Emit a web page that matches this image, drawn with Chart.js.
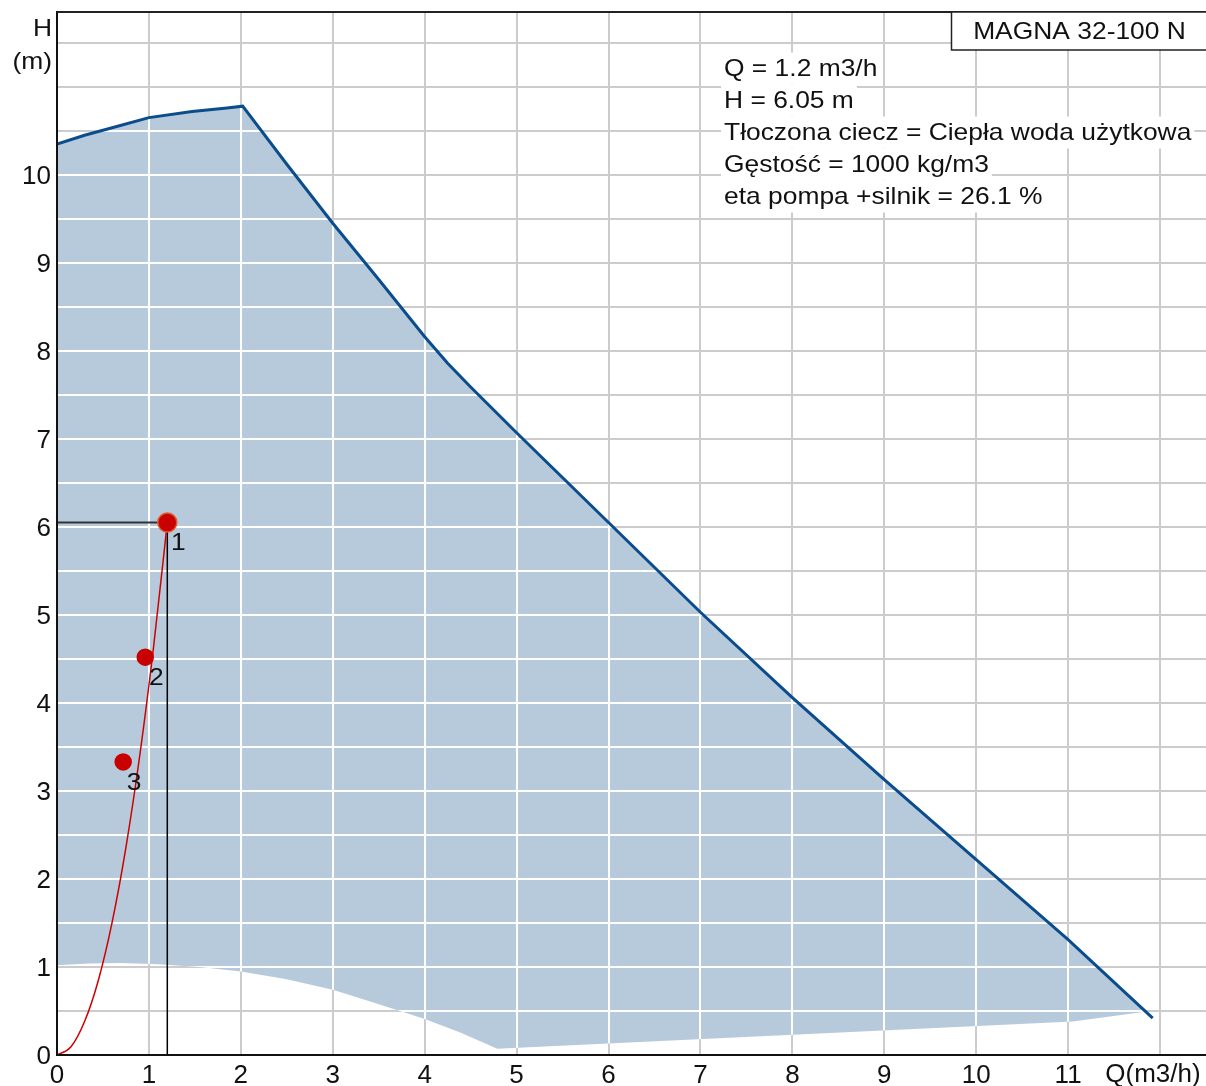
<!DOCTYPE html>
<html>
<head>
<meta charset="utf-8">
<script src="https://cdn.jsdelivr.net/npm/chart.js@4.4.1/dist/chart.umd.min.js"></script>
<style>
  html, body { margin: 0; padding: 0; background: #fff; }
  #wrap { width: 1206px; height: 1086px; }
</style>
</head>
<body>
<div id="wrap"><canvas id="pumpChart" width="1206" height="1086"></canvas></div>
<script>
// upper edge of the working field (max speed curve)
const maxQ = [0, 0.3, 0.58, 1.0, 1.47, 1.85, 2.02, 2.5, 3, 3.5, 4, 4.25, 4.5, 5, 6, 7, 8, 9, 10, 11, 11.92];
const maxH = [10.35, 10.45, 10.53, 10.65, 10.72, 10.76, 10.78, 10.12, 9.45, 8.81, 8.16, 7.86, 7.59, 7.07, 6.05, 5.03, 4.06, 3.13, 2.22, 1.31, 0.42];

// lower edge of the working field (min speed curve)
const minQ = [0, 0.35, 0.7, 1.1, 1.55, 2, 2.5, 3, 3.4, 3.73, 4, 4.4, 4.79, 11.05, 11.84];
const minH = [1.02, 1.04, 1.045, 1.03, 1.0, 0.95, 0.86, 0.74, 0.61, 0.5, 0.41, 0.25, 0.07, 0.38, 0.49];

// system curve
const sysQ = [0, 0.15, 0.3, 0.45, 0.6, 0.75, 0.9, 1.05, 1.2];
const sysH = [0, 0.09, 0.38, 0.85, 1.51, 2.36, 3.4, 4.63, 6.05];

// duty points
const dutyQ = [1.2, 0.96, 0.72];
const dutyH = [6.05, 4.52, 3.33];
const dutyLabels = ['1', '2', '3'];

const xTickLabels = ['0', '1', '2', '3', '4', '5', '6', '7', '8', '9', '10', '11'];
const yTickLabels = ['0', '1', '2', '3', '4', '5', '6', '7', '8', '9', '10'];
const xTitle = 'Q(m3/h)';
const yTitle = ['H', '(m)'];

const pumpName = 'MAGNA 32-100 N';
const infoLines = [
  'Q = 1.2 m3/h',
  'H = 6.05 m',
  'Tłoczona ciecz = Ciepła woda użytkowa',
  'Gęstość = 1000 kg/m3',
  'eta pompa +silnik = 26.1 %'
];

const FONT = '"Liberation Sans", Arial, sans-serif';
const STRETCH = 1.1;
const pts = (xs, ys) => xs.map((x, i) => ({ x: x, y: ys[i] }));

const fieldPts = pts(maxQ, maxH).concat(pts(minQ, minH).reverse());
const AREA = 5;

// text a bit wider than tall, like the original
function wideText(ctx, t, x, y) {
  ctx.save();
  ctx.translate(x, y);
  ctx.scale(STRETCH, 1);
  ctx.fillText(t, 0, 0);
  ctx.restore();
}

// white grid lines inside the working field
const fieldGrid = {
  id: 'fieldGrid',
  afterDatasetDraw(chart, args) {
    if (args.index !== AREA) return;
    const ctx = chart.ctx, a = chart.chartArea;
    const p = args.meta.data;
    ctx.save();
    ctx.beginPath();
    p.forEach((q, i) => i ? ctx.lineTo(q.x, q.y) : ctx.moveTo(q.x, q.y));
    ctx.closePath();
    ctx.clip();
    ctx.strokeStyle = '#ffffff';
    ctx.lineWidth = 2;
    chart.scales.x.ticks.forEach(t => {
      const x = Math.round(chart.scales.x.getPixelForValue(t.value));
      ctx.beginPath(); ctx.moveTo(x, a.top); ctx.lineTo(x, a.bottom); ctx.stroke();
    });
    chart.scales.y.ticks.forEach(t => {
      const y = Math.round(chart.scales.y.getPixelForValue(t.value));
      ctx.beginPath(); ctx.moveTo(a.left, y); ctx.lineTo(a.right, y); ctx.stroke();
    });
    ctx.restore();
  }
};

const annotations = {
  id: 'annotations',
  afterDraw(chart) {
    const ctx = chart.ctx, a = chart.chartArea;
    ctx.save();
    // top frame
    ctx.strokeStyle = '#222';
    ctx.lineWidth = 2;
    ctx.beginPath(); ctx.moveTo(a.left, a.top); ctx.lineTo(a.right, a.top); ctx.stroke();

    ctx.fillStyle = '#111';
    ctx.textBaseline = 'middle';

    // x axis title in place of the last tick label
    ctx.font = '26px ' + FONT;
    ctx.textAlign = 'center';
    ctx.fillText(xTitle, 1153, 1075);

    ctx.font = '24px ' + FONT;

    // y axis title
    ctx.textAlign = 'right';
    wideText(ctx, yTitle[0], 52, 29.5);
    wideText(ctx, yTitle[1], 52, 62);

    // name box
    ctx.fillStyle = '#fff';
    ctx.fillRect(951, 12, 270, 38);
    ctx.lineWidth = 1.5;
    ctx.strokeRect(951.5, 12, 270, 38);
    ctx.fillStyle = '#111';
    ctx.textAlign = 'center';
    wideText(ctx, pumpName, 1079.5, 32);

    // info block
    ctx.textAlign = 'left';
    infoLines.forEach((t, i) => {
      const y = 69.5 + i * 32;
      const w = ctx.measureText(t).width * STRETCH;
      ctx.fillStyle = '#fff';
      ctx.fillRect(721, y - 17, w + 6, 32);
      ctx.fillStyle = '#111';
      wideText(ctx, t, 724, y);
    });

    // duty point numbers
    ctx.textAlign = 'center';
    chart.getDatasetMeta(0).data.forEach((q, i) => {
      wideText(ctx, dutyLabels[i], q.x + 11, q.y + 21);
    });
    ctx.restore();
  }
};

const config = {
  type: 'line',
  data: {
    datasets: [
      {
        data: pts(dutyQ, dutyH),
        showLine: false,
        pointRadius: [9.5, 8, 8],
        pointBackgroundColor: '#c80000',
        pointBorderColor: ['#e2592c', '#c80000', '#c80000'],
        pointBorderWidth: 1.5
      },
      {
        data: pts(sysQ, sysH),
        borderColor: '#cc0000',
        borderWidth: 1.5,
        cubicInterpolationMode: 'monotone',
        pointRadius: 0
      },
      {
        data: [{ x: dutyQ[0], y: dutyH[0] }, { x: dutyQ[0], y: 0 }],
        borderColor: '#000',
        borderWidth: 1.5,
        pointRadius: 0
      },
      {
        data: [{ x: 0, y: dutyH[0] }, { x: dutyQ[0], y: dutyH[0] }],
        borderColor: '#333',
        borderWidth: 2,
        pointRadius: 0
      },
      {
        data: pts(maxQ, maxH),
        borderColor: '#0b4d8c',
        borderWidth: 3,
        pointRadius: 0
      },
      {
        data: fieldPts,
        borderWidth: 0,
        backgroundColor: '#b7cadb',
        fill: 'shape',
        pointRadius: 0
      }
    ]
  },
  options: {
    responsive: false,
    animation: false,
    layout: { autoPadding: false, padding: { top: 12, left: 0, right: 0, bottom: 0 } },
    plugins: { legend: { display: false }, tooltip: { enabled: false } },
    scales: {
      x: {
        type: 'linear',
        min: 0,
        max: 12.5,
        ticks: {
          stepSize: 1,
          includeBounds: false,
          padding: 5,
          color: '#111',
          maxRotation: 0,
          autoSkip: false,
          font: { family: FONT, size: 26 },
          callback: v => xTickLabels[v] || ''
        },
        grid: { color: '#cccccc', lineWidth: 2, drawTicks: false },
        border: { color: '#111', width: 2, z: 1 },
        afterFit: s => { s.height = 31; s.paddingLeft = 0; s.paddingRight = 0; }
      },
      y: {
        type: 'linear',
        min: 0,
        max: 11.85,
        ticks: {
          stepSize: 0.5,
          includeBounds: false,
          padding: 6,
          labelOffset: 1.5,
          color: '#111',
          autoSkip: false,
          font: { family: FONT, size: 26 },
          callback: v => Number.isInteger(v) ? (yTickLabels[v] || '') : ''
        },
        grid: { color: '#cccccc', lineWidth: 2, drawTicks: false },
        border: { color: '#111', width: 2, z: 1 },
        afterFit: s => { s.width = 57; s.paddingTop = 0; s.paddingBottom = 0; }
      }
    }
  },
  plugins: [fieldGrid, annotations]
};

const pumpChart = new Chart(document.getElementById('pumpChart'), config);
</script>
</body>
</html>
